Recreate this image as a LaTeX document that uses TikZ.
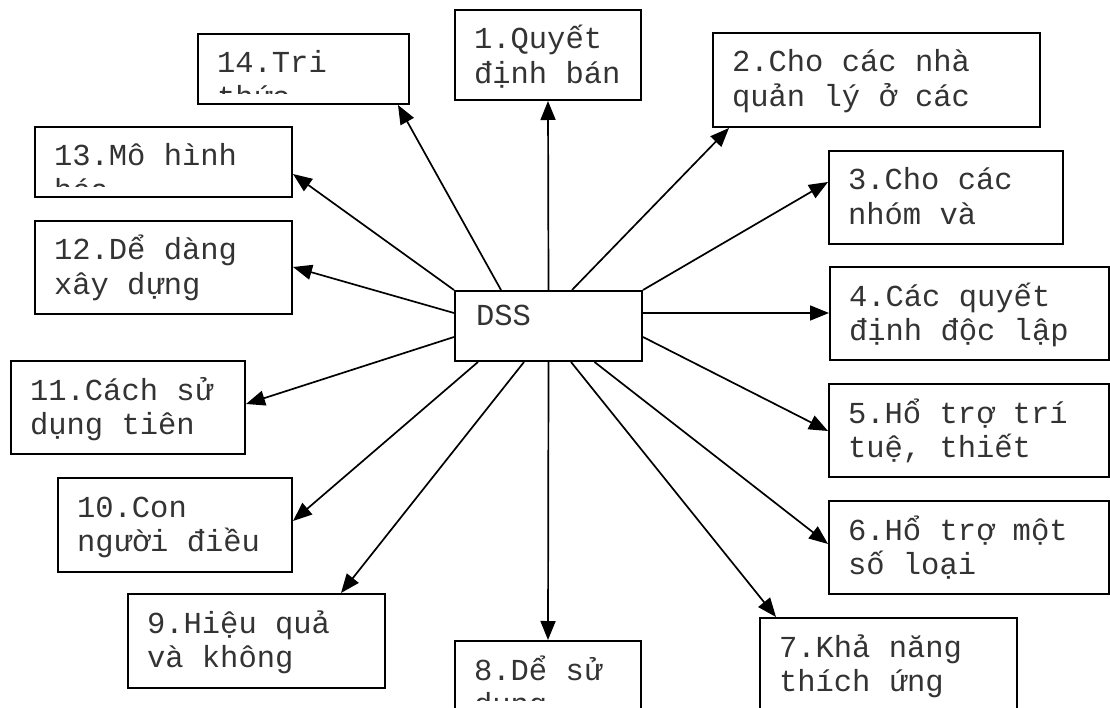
\documentclass[tikz,border=0pt]{standalone}
\usepackage{fontspec}
\newfontfamily\boxfont{Liberation Mono}
\usetikzlibrary{arrows.meta}
\begin{document}
\begin{tikzpicture}[x=1pt,y=-1pt,
  box/.style={draw, line width=2pt, rectangle, inner sep=0pt},
  txt/.style={draw=none, fill=none, minimum width=0pt, minimum height=0pt,
    font=\boxfont\fontsize{30.5pt}{34.5pt}\selectfont,
    inner sep=0pt, anchor=base west, text=black!80},
  % text of a box: lines start 18pt in from the left edge, first baseline 39pt
  % below the top; anything lower than 10pt above the bottom edge is cut off
  twolines/.style 2 args={path picture={
    \clip (path picture bounding box.north west) rectangle
          ([yshift=10pt]path picture bounding box.south east);
    \node[txt] at ([xshift=18pt,yshift=-39pt]path picture bounding box.north west) {#1};
    \node[txt] at ([xshift=18pt,yshift=-73.5pt]path picture bounding box.north west) {#2};
  }},
  oneline/.style={path picture={
    \node[txt] at ([xshift=20pt,yshift=-35pt]path picture bounding box.north west) {#1};
  }},
  link/.style={line width=1.7pt, -{Triangle[length=19pt,width=15pt]}},
]
\useasboundingbox (0,0) rectangle (1110,708);
\clip (0,0) rectangle (1110,708);

% centre
\node[box, minimum width=187pt, minimum height=70pt, oneline={DSS}] (dss) at (548.5,326) {};

% surrounding boxes
\node[box, minimum width=186pt, minimum height=90pt, twolines={1.Quyết}{định bán}] (n1) at (548,55) {};
\node[box, minimum width=327pt, minimum height=94pt, twolines={2.Cho các nhà}{quản lý ở các}] (n2) at (876.5,80) {};
\node[box, minimum width=234pt, minimum height=93pt, twolines={3.Cho các}{nhóm và}] (n3) at (946,197.5) {};
\node[box, minimum width=279pt, minimum height=93pt, twolines={4.Các quyết}{định độc lập}] (n4) at (969.5,313.5) {};
\node[box, minimum width=280pt, minimum height=93pt, twolines={5.Hổ trợ trí}{tuệ, thiết}] (n5) at (969,430.5) {};
\node[box, minimum width=280pt, minimum height=93pt, twolines={6.Hổ trợ một}{số loại}] (n6) at (969,547.5) {};
\node[box, minimum width=257pt, minimum height=94pt, twolines={7.Khả năng}{thích ứng}] (n7) at (888.5,665) {};
\node[box, minimum width=186pt, minimum height=69pt, twolines={8.Dể sử}{dụng}] (n8) at (548,675.5) {};
\node[box, minimum width=257pt, minimum height=94pt, twolines={9.Hiệu quả}{và không}] (n9) at (256.5,641) {};
\node[box, minimum width=234pt, minimum height=94pt, twolines={10.Con}{người điều}] (n10) at (175,525) {};
\node[box, minimum width=234pt, minimum height=93pt, twolines={11.Cách sử}{dụng tiên}] (n11) at (128,407.5) {};
\node[box, minimum width=257pt, minimum height=93pt, twolines={12.Dể dàng}{xây dựng}] (n12) at (163.5,267.5) {};
\node[box, minimum width=257pt, minimum height=70pt, twolines={13.Mô hình}{hóa}] (n13) at (163.5,162) {};
\node[box, minimum width=211pt, minimum height=70pt, twolines={14.Tri}{thức}] (n14) at (303.5,69) {};

% connectors
\coordinate (s4) at ([yshift=-23pt]dss.north east);
\draw[link] (dss.north) -- (n1.south);
\draw[link] ([xshift=118pt]dss.north west) -- ([xshift=17pt]n2.south west);
\draw[link] (dss.north east) -- ([yshift=-32pt]n3.north west);
\draw[link] (s4) -- (s4 -| n4.west);
\draw[link] ([yshift=-47pt]dss.north east) -- ([yshift=-48pt]n5.north west);
\draw[link] ([xshift=140.5pt]dss.south west) -- ([yshift=-44pt]n6.north west);
\draw[link] ([xshift=117pt]dss.south west) -- ([xshift=17pt]n7.north west);
\draw[link] (dss.south) -- (n8.north);
\draw[link] ([xshift=70pt]dss.south west) -- ([xshift=-45pt]n9.north east);
\draw[link] ([xshift=24pt]dss.south west) -- ([yshift=-44pt]n10.north east);
\draw[link] ([yshift=-47pt]dss.north west) -- ([yshift=-44pt]n11.north east);
\draw[link] ([yshift=-23pt]dss.north west) -- ([yshift=-47pt]n12.north east);
\draw[link] (dss.north west) -- ([yshift=-48pt]n13.north east);
\draw[link] ([xshift=47pt]dss.north west) -- ([xshift=-12pt]n14.south east);
\end{tikzpicture}
\end{document}
